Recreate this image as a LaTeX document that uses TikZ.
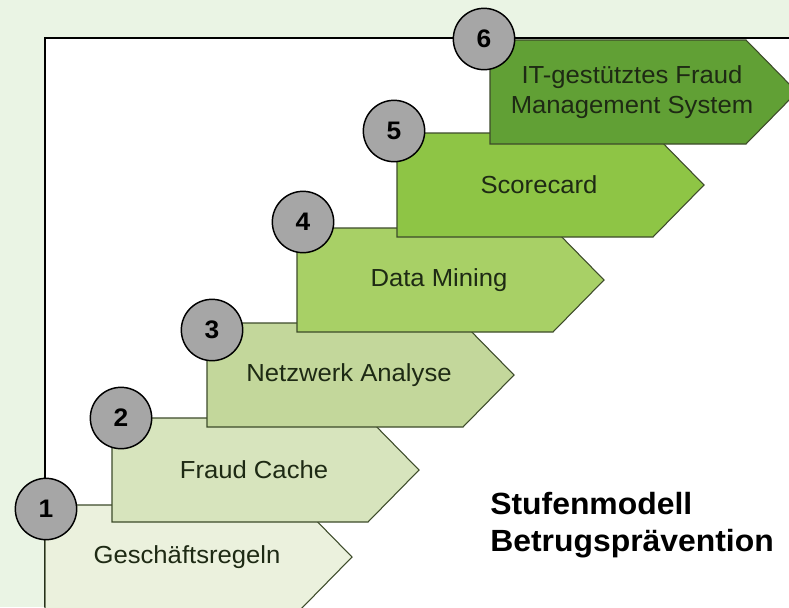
\documentclass[tikz,border=0pt]{standalone}
\usepackage{fontspec}
\setmainfont{Liberation Sans}[FakeStretch=1.04]
\usetikzlibrary{positioning}

\definecolor{bggreen}{HTML}{EAF4E4}
\definecolor{stepA}{HTML}{EBF1DD}
\definecolor{stepB}{HTML}{D7E4BD}
\definecolor{stepC}{HTML}{C3D79B}
\definecolor{stepD}{HTML}{A8D066}
\definecolor{stepE}{HTML}{8EC545}
\definecolor{stepF}{HTML}{61A035}
\definecolor{edgegreen}{HTML}{3D4B2A}
\definecolor{textdark}{HTML}{1E2A14}
\definecolor{numgray}{HTML}{A6A6A6}

\tikzset{
  stage/.style={draw=edgegreen, line width=0.8pt, line join=miter},
  stagetext/.style={text=textdark, align=center, inner sep=0pt,
    font=\fontsize{18.5}{22.5}\selectfont},
  numcircle/.style={draw, circle, fill=numgray, line width=1.1pt,
    minimum size=46pt, inner sep=0pt, font=\bfseries\fontsize{19}{22}\selectfont},
}

\begin{document}
\begin{tikzpicture}[x=0.75pt, y=-0.75pt]
            \useasboundingbox (0,0) rectangle (789,607);
            \clip (0,0) rectangle (789,607);
            \fill[bggreen] (0,0) rectangle (789,607);
            \fill[white] (45,38) rectangle (789,607);
            \draw[line width=1.4pt] (45,607) -- (45,38) -- (789,38);

            % the six steps, from bottom left to top right
            \foreach \n/\l/\t/\c/\txt in {1/45/505/stepA/Geschäftsregeln,
                2/112/418/stepB/Fraud Cache,
                3/207/323/stepC/Netzwerk Analyse,
                4/297/228/stepD/Data Mining,
                5/397/133/stepE/Scorecard,
                6/490/40/stepF/{IT-gestütztes Fraud\\Management System}}{
              \begin{scope}[shift={(\l,\t)}]
                \draw[stage, fill=\c] (0,0) -- (256,0) -- (307,52) -- (256,104) -- (0,104) -- cycle;
                \node[stagetext] (step\n) at (142,52) {\txt};
              \end{scope}
            }

            % numbers
            \foreach \n/\x/\y in {1/46/509, 2/121/418, 3/212/330, 4/303/222, 5/394/131, 6/484/39}
              \node[numcircle] (num\n) at (\x,\y) {\n};

            \node[font=\bfseries\fontsize{23}{27.5}\selectfont, align=left, inner sep=0pt,
                  anchor=north west] (title) at (490,492) {Stufenmodell\\Betrugsprävention};
\end{tikzpicture}
\end{document}
